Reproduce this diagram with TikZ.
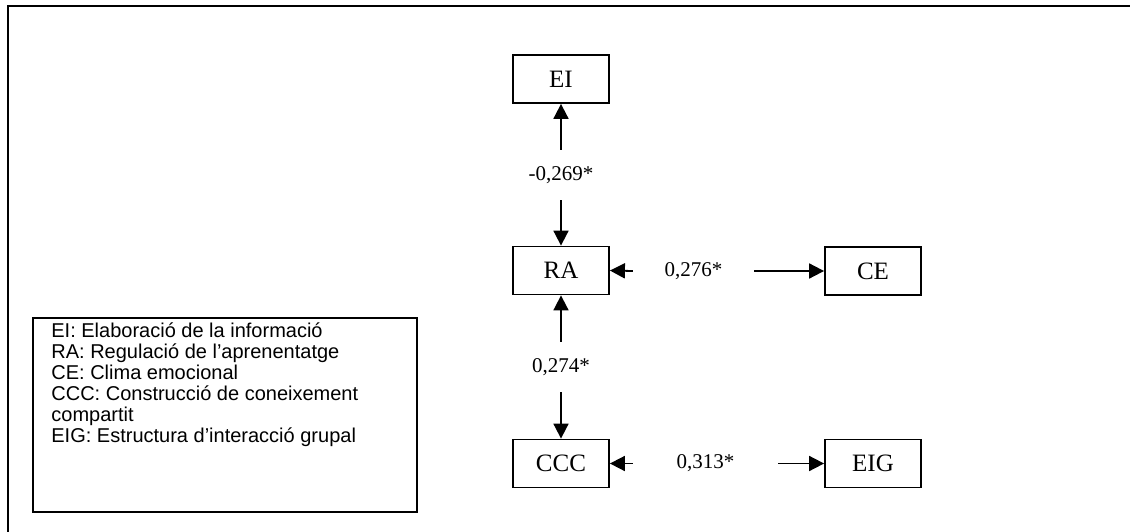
\documentclass[tikz,border=0pt]{standalone}
\usepackage{fontspec}
\setmainfont{Liberation Serif}
\newfontfamily\legendfont{Liberation Sans}
\usetikzlibrary{arrows.meta,calc}

\tikzset{
  varbox/.style={draw, line width=1.8pt, minimum width=96pt, minimum height=48pt,
    inner sep=0pt, font=\fontsize{25}{30}\selectfont},
  coef/.style={inner sep=0pt, font=\fontsize{21}{25}\selectfont},
  vcoef/.style={coef, minimum height=50pt},
  path/.style={line width=1.8pt, -{Triangle[length=15pt,width=15pt]}},
  legendbox/.style={draw, line width=1.6pt, minimum width=384pt, minimum height=194pt, inner sep=0pt},
}

\begin{document}
\begin{tikzpicture}[x=1pt, y=-1pt]
  \useasboundingbox (0,0) rectangle (1130,532);

  % open frame: top and left edges only
  \draw[line width=1.5pt] (8,532) -- (8,6) -- (1130,6);

  % variables
  \node[varbox] (EI)  at (561,79)    {EI};
  \node[varbox] (RA)  at (561,270.5) {RA};
  \node[varbox] (CCC) at (561,463.5) {CCC};
  \node[varbox] (CE)  at (873,271)   {CE};
  \node[varbox] (EIG) at (873,463.5) {EIG};

  % coefficients; each label sits in the gap of its double-headed path
  \node[vcoef] (cEIRA) at (561,175) {-0,269*};
  \node[vcoef] (cRACCC) at (561,367) {0,274*};
  \node[coef, minimum width=121pt, minimum height=20pt] (cRACE) at (693.5,271) {0,276*};
  \node[coef, minimum width=145pt, minimum height=20pt] (cCCCEIG) at (705.5,463.5) {0,313*};

  \draw[path] (cEIRA.north) -- (EI.south);
  \draw[path] (cEIRA.south) -- (RA.north);
  \draw[path] (cRACCC.north) -- (RA.south);
  \draw[path] (cRACCC.south) -- (CCC.north);
  \draw[path] (cRACE.west) -- (RA.east);
  \draw[path] (cRACE.east) -- (CE.west);
  \draw[path] (cCCCEIG.west) -- (CCC.east);
  \draw[path] (cCCCEIG.east) -- (EIG.west);

  % legend
  \node[legendbox] (legend) at (225,415) {};
  \node[anchor=north west, align=left, inner sep=0pt,
        font=\legendfont\fontsize{20}{21}\selectfont] (legendtext)
        at ($(legend.north west)+(19,5)$)
    {EI: Elaboració de la informació\\
     RA: Regulació de l’aprenentatge\\
     CE: Clima emocional\\
     CCC: Construcció de coneixement\\
     compartit\\
     EIG: Estructura d’interacció grupal};
\end{tikzpicture}
\end{document}
